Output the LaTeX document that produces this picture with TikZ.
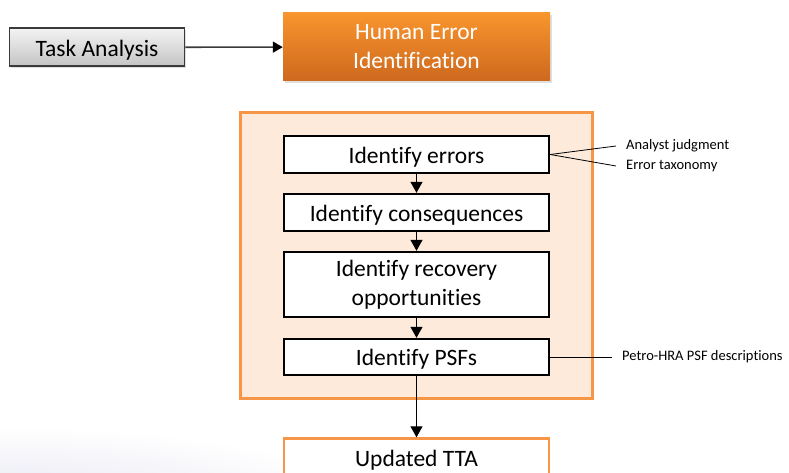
\documentclass[tikz,border=0pt]{standalone}
\usepackage{fontspec}
\setmainfont{Carlito}[Ligatures=NoCommon]
\usetikzlibrary{arrows.meta,shadows,fadings}

\definecolor{hraorange}{RGB}{247,150,70}
\definecolor{hrapeach}{RGB}{253,234,218}
\definecolor{hraorangetop}{RGB}{248,149,44}
\definecolor{hraorangebot}{RGB}{206,104,30}
\definecolor{taskgraytop}{RGB}{243,243,243}
\definecolor{taskgraybot}{RGB}{196,196,196}
\definecolor{taskedge}{RGB}{58,58,58}
\definecolor{hazecol}{RGB}{218,218,236}

\newcommand\bigtxt{\fontsize{23.5}{29}\selectfont}
\newcommand\smalltxt{\fontsize{14.5}{17}\selectfont}

\tikzfading[name=hazefade, inner color=transparent!30, outer color=transparent!100]

\begin{document}
\begin{tikzpicture}[x=1pt,y=-1pt,
  bigtext/.style={font=\bigtxt,execute at begin node={\rule{0pt}{21.5pt}}},
  stepbox/.style={bigtext,draw=black,line width=2.4pt,fill=white,minimum width=265pt,
    inner sep=0pt,align=center},
  flow/.style={line width=1.2pt,-{Triangle[width=12pt,length=11pt]}},
  sidenote/.style={anchor=west,inner xsep=10pt,inner ysep=0pt,font=\smalltxt},
  sideline/.style={line width=0.8pt}]
\useasboundingbox (0,0) rectangle (789,473);

% soft background haze in the lower left corner
\fill[hazecol,path fading=hazefade] (0,505) ellipse [x radius=370pt, y radius=78pt];

% top row
\node[bigtext,draw=taskedge,line width=1.6pt,top color=taskgraytop,bottom color=taskgraybot,
  minimum width=175pt,minimum height=38pt,inner sep=0pt,
  drop shadow={opacity=0.25,shadow xshift=1.5pt,shadow yshift=-2pt}]
  (task) at (97,47.3) {Task Analysis};
\node[bigtext,top color=hraorangetop,bottom color=hraorangebot,text=white,
  minimum width=267pt,minimum height=68pt,inner sep=0pt,align=center,
  drop shadow={opacity=0.25,shadow xshift=1.5pt,shadow yshift=-2pt}]
  (hei) at (416.5,47) {Human Error\\Identification};
\draw[line width=1.6pt,taskedge,-{Triangle[width=11pt,length=10pt,color=black]}]
  (task) -- (hei);

% process container
\node[draw=hraorange,line width=2.4pt,fill=hrapeach,minimum width=352pt,
  minimum height=286pt,inner sep=0pt] (frame) at (416.5,255.5) {};

\node[stepbox,minimum height=37pt] (errors) at (416.5,154.5) {Identify errors};
\node[stepbox,minimum height=37pt] (cons) at (416.5,212.5) {Identify consequences};
\node[stepbox,minimum height=65pt] (recov) at (416.5,284.5) {Identify recovery\\opportunities};
\node[stepbox,minimum height=36pt] (psf) at (416.5,357) {Identify PSFs};
\node[stepbox,draw=hraorange,minimum height=38pt] (tta) at (416.5,457.5) {Updated TTA};

\draw[flow] (errors) -- (cons);
\draw[flow] (cons) -- (recov);
\draw[flow] (recov) -- (psf);
\draw[flow] (psf) -- (tta);

% inputs to the steps
\node[sidenote] (judg) at (616,146) {Analyst judgment};
\node[sidenote] (taxo) at (616,166) {Error taxonomy};
\node[sidenote] (psfdesc) at (612,357) {Petro-HRA PSF descriptions};
\draw[sideline] (errors.east) -- (judg.west);
\draw[sideline] (errors.east) -- (taxo.west);
\draw[sideline] (psf.east) -- (psfdesc.west);
\end{tikzpicture}
\end{document}
